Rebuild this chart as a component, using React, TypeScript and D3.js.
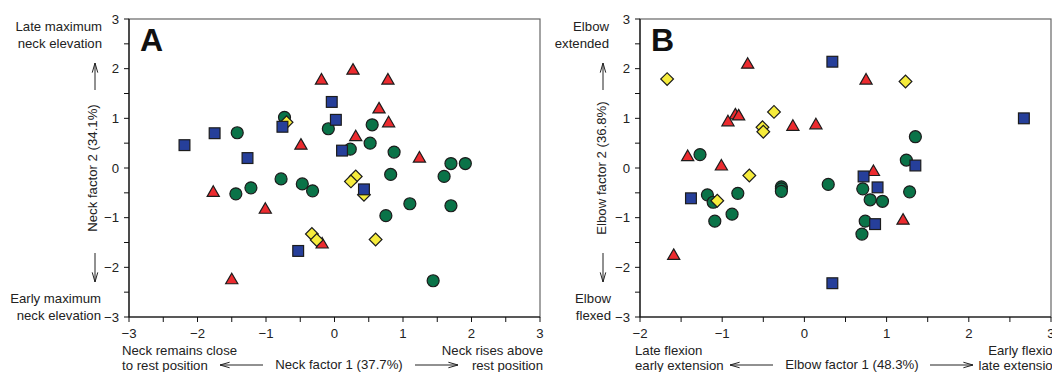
import * as d3 from 'd3';
import React from 'react';

const W = 1052;
const H = 372;

// Panel A: neck factors
const neckSquares = [
  [-2.19, 0.46], [-1.75, 0.7], [-1.27, 0.2], [-0.76, 0.83], [-0.53, -1.67],
  [-0.04, 1.33], [0.02, 0.97], [0.11, 0.35], [0.43, -0.43],
];
const neckCircles = [
  [-1.42, 0.71], [-0.73, 1.02], [-0.09, 0.79], [-1.44, -0.52], [-1.22, -0.4],
  [-0.78, -0.22], [-0.47, -0.32], [-0.32, -0.46], [0.55, 0.87], [0.52, 0.5],
  [0.23, 0.38], [0.87, 0.32], [0.82, -0.13], [1.1, -0.72], [0.75, -0.96],
  [1.7, 0.09], [1.91, 0.09], [1.6, -0.17], [1.7, -0.76], [1.44, -2.27],
];
const neckTriangles = [
  [-1.77, -0.49], [-1.01, -0.83], [-1.5, -2.25], [-0.49, 0.46], [-0.19, 1.77],
  [-0.18, -1.53], [0.27, 1.97], [0.78, 1.77], [0.65, 1.19], [0.79, 0.91],
  [0.31, 0.63], [1.24, 0.2],
];
const neckDiamonds = [
  [-0.7, 0.92], [-0.33, -1.33], [-0.26, -1.45], [0.31, -0.17], [0.24, -0.27],
  [0.43, -0.54], [0.6, -1.44],
];

// Panel B: elbow factors
const elbowSquares = [
  [-1.38, -0.61], [0.34, 2.14], [0.34, -2.32], [2.67, 1.0], [1.35, 0.05],
  [0.72, -0.17], [0.89, -0.39], [0.86, -1.13],
];
const elbowCircles = [
  [-1.27, 0.27], [-1.18, -0.54], [-1.11, -0.69], [-1.09, -1.07], [-0.81, -0.51],
  [-0.88, -0.93], [-0.28, -0.38], [-0.28, -0.42], [-0.28, -0.47], [0.29, -0.33],
  [1.35, 0.63], [1.24, 0.16], [0.71, -0.42], [0.8, -0.64], [0.95, -0.67],
  [1.28, -0.48], [0.74, -1.07], [0.7, -1.33],
];
const elbowTriangles = [
  [-0.69, 2.09], [-0.84, 1.07], [-0.8, 1.05], [-0.93, 0.93], [-0.14, 0.84],
  [0.14, 0.87], [-1.42, 0.23], [-1.01, 0.04], [-1.59, -1.76], [0.75, 1.77],
  [0.84, -0.07], [1.2, -1.05],
];
const elbowDiamonds = [
  [-1.67, 1.79], [-0.37, 1.13], [-0.51, 0.82], [-0.5, 0.73], [-0.67, -0.15],
  [-1.06, -0.66], [1.23, 1.74],
];

const yTicks = [-3, -2, -1, 0, 1, 2, 3];
const neckXTicks = [-3, -2, -1, 0, 1, 2, 3];
const elbowXTicks = [-2, -1, 0, 1, 2, 3];

const GREEN = '#0a7348';
const BLUE = '#263f9a';
const RED = '#ec2b2f';
const YELLOW = '#f6ec3c';
const STROKE = '#1c1c1c';
const FONT = 'Liberation Sans, Arial, sans-serif';
const FS = 13.2;

type Pt = number[];

function Markers({ x, y, circles, triangles, diamonds, squares }: any) {
  const tri = d3.symbol(d3.symbolTriangle, 64)()!;
  return (
    <g stroke={STROKE} strokeWidth={1.2}>
      {circles.map((d: Pt, i: number) => (
        <circle key={'c' + i} cx={x(d[0])} cy={y(d[1])} r={6} fill={GREEN} />
      ))}
      {triangles.map((d: Pt, i: number) => (
        <path key={'t' + i} d={tri} transform={`translate(${x(d[0])},${y(d[1]) + 0.5})`} fill={RED} />
      ))}
      {diamonds.map((d: Pt, i: number) => (
        <rect key={'d' + i} x={-4.5} y={-4.5} width={9} height={9}
          transform={`translate(${x(d[0])},${y(d[1])}) rotate(45)`} fill={YELLOW} />
      ))}
      {squares.map((d: Pt, i: number) => (
        <rect key={'s' + i} x={x(d[0]) - 5.4} y={y(d[1]) - 5.4} width={10.8} height={10.8} fill={BLUE} />
      ))}
    </g>
  );
}

function Arrow({ x1, y1, x2, y2 }: { x1: number; y1: number; x2: number; y2: number }) {
  const a = Math.atan2(y2 - y1, x2 - x1);
  const len = 10;
  const sp = 0.28;
  const p1 = [x2 - len * Math.cos(a - sp), y2 - len * Math.sin(a - sp)];
  const p2 = [x2 - len * Math.cos(a + sp), y2 - len * Math.sin(a + sp)];
  return (
    <g stroke="#222" strokeWidth={1} fill="none">
      <line x1={x1} y1={y1} x2={x2} y2={y2} />
      <polyline points={`${p1[0]},${p1[1]} ${x2},${y2} ${p2[0]},${p2[1]}`} />
    </g>
  );
}

const fmt = (v: number) => (v < 0 ? '\u2212' + Math.abs(v) : String(v));

function Panel({ x0, x1, xDomain, xTicks, letter, data, texts }: any) {
  const x = d3.scaleLinear().domain(xDomain).range([x0, x1]);
  const y = d3.scaleLinear().domain([-3, 3]).range([317, 19]);
  const xMinor = d3.range(xDomain[0], xDomain[1] + 0.01, 0.5);
  const yMinor = d3.range(-3, 3.01, 0.5);
  return (
    <g fontFamily={FONT} fill="#222">
      <rect x={x0} y={y(3)} width={x1 - x0} height={y(-3) - y(3)} fill="none" stroke="#666" strokeWidth={1.2} />
      <line x1={x0} x2={x1} y1={y(-3)} y2={y(-3)} stroke="#111" strokeWidth={1.2} />
      <line x1={x0} x2={x0} y1={y(3)} y2={y(-3)} stroke="#111" strokeWidth={1.2} />
      {xMinor.map((t: number) => (
        <line key={'xt' + t} x1={x(t)} x2={x(t)} y1={y(-3)} y2={y(-3) + 5} stroke="#111" />
      ))}
      {yMinor.map((t: number) => (
        <line key={'yt' + t} x1={x0 - 5} x2={x0} y1={y(t)} y2={y(t)} stroke="#111" />
      ))}
      {xTicks.map((t: number) => (
        <text key={'xl' + t} x={x(t)} y={338} textAnchor="middle" fontSize={FS}>{fmt(t)}</text>
      ))}
      {yTicks.map((t: number) => (
        <text key={'yl' + t} x={x0 - 10} y={y(t) + 4.7} textAnchor="end" fontSize={FS}>{fmt(t)}</text>
      ))}
      <text x={x0 + 11} y={51} fontSize={32} fontWeight="bold" fill="#111">{letter}</text>
      <Markers x={x} y={y} {...data} />
      {texts}
    </g>
  );
}

export default function App() {
  const textsA = (
    <g fontSize={FS}>
      <text x={102} y={31} textAnchor="end">Late maximum</text>
      <text x={102} y={48} textAnchor="end">neck elevation</text>
      <Arrow x1={95} y1={90} x2={95} y2={63} />
      <text transform="translate(97,168) rotate(-90)" textAnchor="middle">Neck factor 2 (34.1%)</text>
      <Arrow x1={95} y1={253} x2={95} y2={282} />
      <text x={101} y={303} textAnchor="end">Early maximum</text>
      <text x={101} y={320} textAnchor="end">neck elevation</text>
      <text x={122} y={355}>Neck remains close</text>
      <text x={122} y={370}>to rest position</text>
      <Arrow x1={263} y1={365} x2={220} y2={365} />
      <text x={339} y={369} textAnchor="middle">Neck factor 1 (37.7%)</text>
      <Arrow x1={415} y1={365} x2={458} y2={365} />
      <text x={543} y={355} textAnchor="end">Neck rises above</text>
      <text x={543} y={370} textAnchor="end">rest position</text>
    </g>
  );
  const textsB = (
    <g fontSize={FS}>
      <text x={609} y={31} textAnchor="end">Elbow</text>
      <text x={609} y={48} textAnchor="end">extended</text>
      <Arrow x1={603} y1={90} x2={603} y2={63} />
      <text transform="translate(606,168) rotate(-90)" textAnchor="middle">Elbow factor 2 (36.8%)</text>
      <Arrow x1={603} y1={253} x2={603} y2={282} />
      <text x={611} y={303} textAnchor="end">Elbow</text>
      <text x={611} y={320} textAnchor="end">flexed</text>
      <text x={635} y={355}>Late flexion</text>
      <text x={635} y={370}>early extension</text>
      <Arrow x1={773} y1={365} x2={730} y2={365} />
      <text x={852} y={369} textAnchor="middle">Elbow factor 1 (48.3%)</text>
      <Arrow x1={930} y1={365} x2={973} y2={365} />
      <text x={1060} y={355} textAnchor="end">Early flexion</text>
      <text x={1060} y={370} textAnchor="end">late extension</text>
    </g>
  );
  return (
    <div style={{ position: 'absolute', left: 0, top: 0 }}>
      <svg width={W} height={H} style={{ display: 'block', background: '#fff' }}>
        <Panel x0={129} x1={540} xDomain={[-3, 3]} xTicks={neckXTicks} letter="A" texts={textsA}
          data={{ circles: neckCircles, triangles: neckTriangles, diamonds: neckDiamonds, squares: neckSquares }} />
        <Panel x0={640} x1={1051} xDomain={[-2, 3]} xTicks={elbowXTicks} letter="B" texts={textsB}
          data={{ circles: elbowCircles, triangles: elbowTriangles, diamonds: elbowDiamonds, squares: elbowSquares }} />
      </svg>
    </div>
  );
}
